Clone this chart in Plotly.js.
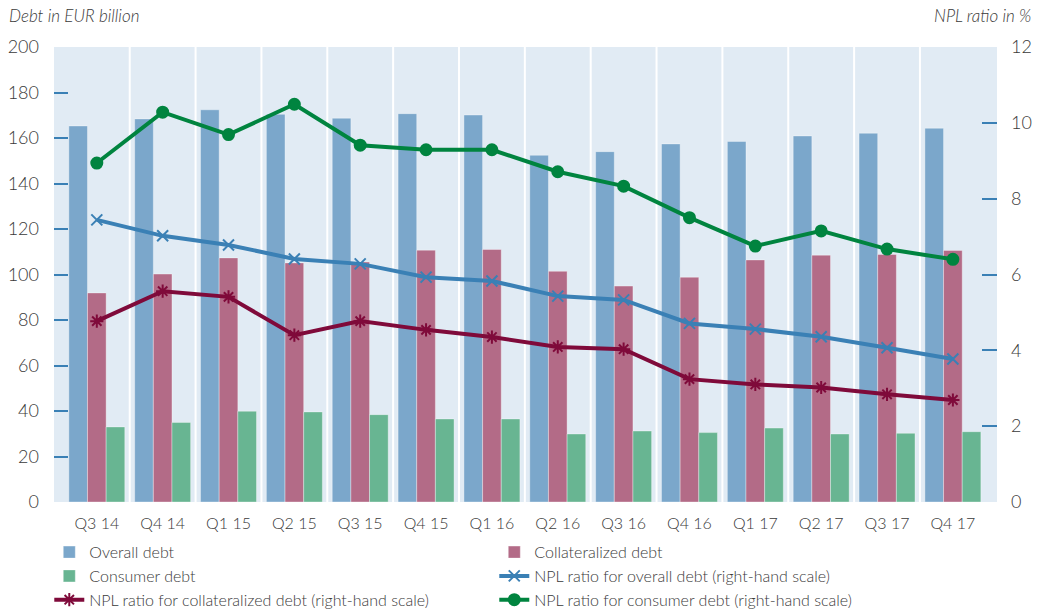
<!DOCTYPE html>
<html>
<head>
<meta charset="utf-8">
<script src="https://cdn.plot.ly/plotly-3.0.1.min.js"></script>
<style>
  html, body { margin: 0; padding: 0; background: #fff; }
  #chart { width: 1042px; height: 610px; }
</style>
</head>
<body>
<div id="chart"></div>
<script>
const quarters = ['Q3 14', 'Q4 14', 'Q1 15', 'Q2 15', 'Q3 15', 'Q4 15', 'Q1 16',
  'Q2 16', 'Q3 16', 'Q4 16', 'Q1 17', 'Q2 17', 'Q3 17', 'Q4 17'];

const overallDebt = [165.3, 168.4, 172.4, 170.4, 168.7, 170.7, 170.1, 152.4, 154.0, 157.4, 158.5, 160.9, 162.1, 164.3];
const collateralizedDebt = [91.9, 100.2, 107.3, 105.1, 105.5, 110.7, 111.0, 101.4, 94.9, 98.8, 106.4, 108.5, 108.8, 110.6];
const consumerDebt = [33.0, 35.0, 39.9, 39.6, 38.4, 36.5, 36.5, 29.9, 31.2, 30.5, 32.5, 29.9, 30.2, 30.9];

const nplOverall = [7.44, 7.02, 6.78, 6.41, 6.28, 5.93, 5.83, 5.43, 5.33, 4.71, 4.56, 4.36, 4.07, 3.77];
const nplCollateralized = [4.77, 5.56, 5.41, 4.40, 4.77, 4.54, 4.35, 4.09, 4.03, 3.24, 3.10, 3.02, 2.84, 2.69];
const nplConsumer = [8.94, 10.28, 9.69, 10.49, 9.41, 9.29, 9.29, 8.71, 8.33, 7.50, 6.75, 7.15, 6.67, 6.40];

const leftTicks = [0, 20, 40, 60, 80, 100, 120, 140, 160, 180, 200];
const rightTicks = [0, 2, 4, 6, 8, 10, 12];

const COLORS = {
  overall: '#7ba7cb',
  collateralized: '#b36b87',
  consumer: '#68b592',
  nplOverall: '#3a80b5',
  nplCollateralized: '#7f0a3a',
  nplConsumer: '#00843f',
  plotBg: '#e1ebf4',
  text: '#3a3a3a'
};

function barTrace(name, values, color) {
  return {
    type: 'bar',
    name,
    x: quarters,
    y: values,
    marker: { color, line: { color: 'rgba(255,255,255,0.35)', width: 1 } }
  };
}

function lineTrace(name, values, color, symbol, size) {
  return {
    type: 'scatter',
    mode: 'lines+markers',
    name,
    x: quarters,
    y: values,
    yaxis: 'y2',
    line: { color, width: 4 },
    marker: { color, symbol, size, line: { color, width: 2 } }
  };
}

const traces = [
  barTrace('Overall debt', overallDebt, COLORS.overall),
  barTrace('Collateralized debt', collateralizedDebt, COLORS.collateralized),
  barTrace('Consumer debt', consumerDebt, COLORS.consumer),
  lineTrace('NPL ratio for overall debt (right-hand scale)', nplOverall, COLORS.nplOverall, 'x-thin-open', 11),
  lineTrace('NPL ratio for collateralized debt (right-hand scale)', nplCollateralized, COLORS.nplCollateralized, 'asterisk-open', 11),
  lineTrace('NPL ratio for consumer debt (right-hand scale)', nplConsumer, COLORS.nplConsumer, 'circle', 11)
];

// white separators between the quarters
const separators = quarters.slice(1).map((_, i) => ({
  type: 'line',
  layer: 'below',
  xref: 'x',
  yref: 'paper',
  x0: i + 0.5,
  x1: i + 0.5,
  y0: 0,
  y1: 1,
  line: { color: '#ffffff', width: 2 }
}));

const font = { family: 'Lato, "Open Sans", sans-serif', color: COLORS.text, size: 16, weight: 300 };

const layout = {
  width: 1042,
  height: 610,
  margin: { l: 54, r: 45, t: 47, b: 108, autoexpand: false },
  paper_bgcolor: '#ffffff',
  plot_bgcolor: COLORS.plotBg,
  font,
  barmode: 'group',
  bargap: 0.15,
  bargroupgap: 0,
  showlegend: true,
  xaxis: {
    type: 'category',
    range: [-0.65, 13.67],
    showgrid: false,
    zeroline: false,
    ticks: '',
    tickfont: { size: 16 },
    ticklabelstandoff: 10,
    fixedrange: true
  },
  yaxis: {
    range: [0, 200],
    tickvals: leftTicks,
    showgrid: false,
    zeroline: false,
    ticks: 'inside',
    ticklen: 14,
    tickwidth: 2,
    tickcolor: COLORS.nplOverall,
    tickfont: { size: 18 },
    ticklabelstandoff: 14
  },
  yaxis2: {
    overlaying: 'y',
    side: 'right',
    range: [0, 12],
    tickvals: rightTicks,
    showgrid: false,
    zeroline: false,
    ticks: 'inside',
    ticklen: 15,
    tickwidth: 2,
    tickcolor: COLORS.nplOverall,
    tickfont: { size: 18 },
    ticklabelstandoff: 13
  },
  legend: {
    orientation: 'h',
    x: -0.005,
    xanchor: 'left',
    y: -0.073,
    yanchor: 'top',
    entrywidth: 400,
    entrywidthmode: 'pixels',
    font: { size: 16 },
    traceorder: 'normal',
    itemwidth: 30
  },
  shapes: separators,
  annotations: [
    {
      xref: 'paper', yref: 'paper', x: -0.05, y: 1.042,
      xanchor: 'left', yanchor: 'bottom', showarrow: false,
      text: '<i>Debt in EUR billion</i>', font: { size: 17 }
    },
    {
      xref: 'paper', yref: 'paper', x: 1.038, y: 1.042,
      xanchor: 'right', yanchor: 'bottom', showarrow: false,
      text: '<i>NPL ratio in %</i>', font: { size: 17 }
    }
  ]
};

Plotly.newPlot('chart', traces, layout, { displayModeBar: false, staticPlot: true });
</script>
</body>
</html>
